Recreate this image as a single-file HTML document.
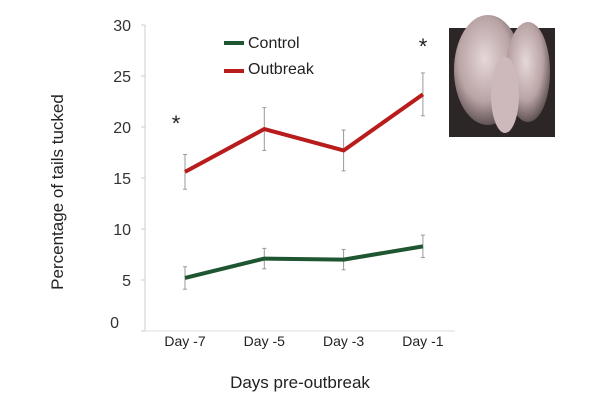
<!DOCTYPE html>
<html><head><meta charset="utf-8"><style>
body{margin:0;background:#fff;width:600px;height:400px;overflow:hidden;font-family:"Liberation Sans",Arial,sans-serif}
</style></head><body>
<svg width="600" height="400" font-family="Liberation Sans, Arial, sans-serif">
<defs>
<radialGradient id="pg" cx="45%" cy="40%" r="70%"><stop offset="0" stop-color="#e6d8d8"/><stop offset="0.55" stop-color="#b9a3a5"/><stop offset="1" stop-color="#3a3030"/></radialGradient>
</defs>
<g>
<rect x="449" y="28" width="106" height="109" fill="#2c2626"/>
<ellipse cx="488" cy="70" rx="34" ry="55" fill="url(#pg)"/>
<ellipse cx="528" cy="72" rx="22" ry="50" fill="url(#pg)"/>
<ellipse cx="505" cy="95" rx="14" ry="38" fill="#cdb9bb"/>
</g>
<g id="axes"></g>
<g id="marks"></g>
<text x="63" y="192" transform="rotate(-90 63 192)" text-anchor="middle" font-size="17" fill="#222">Percentage of tails tucked</text>
<text x="300" y="388" text-anchor="middle" font-size="17" fill="#222">Days pre-outbreak</text>
<g>
<line x1="224" y1="43" x2="244" y2="43" stroke="#1e5631" stroke-width="4"/>
<text x="248" y="44" font-size="16" fill="#222" dominant-baseline="middle">Control</text>
<line x1="224" y1="71" x2="244" y2="71" stroke="#b81c1c" stroke-width="4"/>
<text x="248" y="70" font-size="16" fill="#222" dominant-baseline="middle">Outbreak</text>
</g>
<text x="176" y="131" text-anchor="middle" font-size="22" fill="#222">*</text>
<text x="423" y="54" text-anchor="middle" font-size="22" fill="#222">*</text>
</svg>
<script>
const categories=["Day -7","Day -5","Day -3","Day -1"];
const controlValues=[5.2,7.1,7.0,8.3];
const controlErrors=[1.1,1.0,1.0,1.1];
const outbreakValues=[15.6,19.8,17.7,23.2];
const outbreakErrors=[1.7,2.1,2.0,2.1];
const yTicks=[0,5,10,15,20,25,30];
const NS="http://www.w3.org/2000/svg";
function xs(i){return 185+i*79.3;}
function ys(v){return 331-v*10.2;}
function mk(t,a,p){const e=document.createElementNS(NS,t);for(const k in a)e.setAttribute(k,a[k]);p.appendChild(e);return e;}
const ax=document.getElementById('axes'),mg=document.getElementById('marks');
const yl=mk('line',{x1:145,y1:ys(30),x2:145,y2:331,stroke:'#ccc'},ax);


const xl=mk('line',{x1:145,y1:331,x2:455,y2:331,stroke:'#ddd'},ax);


yTicks.forEach(v=>{
 mk('line',{x1:141,y1:ys(v),x2:145,y2:ys(v),stroke:'#ccc'},ax);
 const t=mk('text',{x:v===0?119:131,y:ys(v)+(v===0?-3:6),'text-anchor':'end','font-size':16,fill:'#333'},ax);
 t.textContent=v;
 
 
});
categories.forEach((c,i)=>{
 const t=mk('text',{x:xs(i),y:346,'text-anchor':'middle','font-size':14,fill:'#222'},ax);
 t.textContent=c;
 
 
});
function series(vals,errs,color,name){
 vals.forEach((v,i)=>{
  const g=mk('g',{stroke:'#999','stroke-width':1},mg);
  
  
  mk('line',{x1:xs(i),y1:ys(v+errs[i]),x2:xs(i),y2:ys(v-errs[i])},g);
  mk('line',{x1:xs(i)-2,y1:ys(v+errs[i]),x2:xs(i)+2,y2:ys(v+errs[i])},g);
  mk('line',{x1:xs(i)-2,y1:ys(v-errs[i]),x2:xs(i)+2,y2:ys(v-errs[i])},g);
 });
 const p=mk('polyline',{points:vals.map((v,i)=>xs(i)+','+ys(v)).join(' '),fill:'none',stroke:color,'stroke-width':4,'stroke-linejoin':'round'},mg);
 
 
}
series(controlValues,controlErrors,'#1e5631','control');
series(outbreakValues,outbreakErrors,'#b81c1c','outbreak');
</script>
</body></html>
